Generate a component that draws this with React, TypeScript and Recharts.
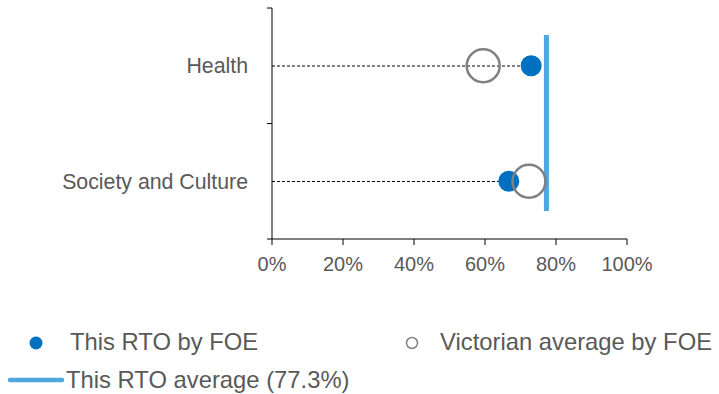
import { ComposedChart, Bar, Line, XAxis, YAxis, ReferenceLine } from 'recharts';

const categories = ['Health', 'Society and Culture'];
const rtoValues = [0.73, 0.667];
const vicValues = [0.595, 0.724];
const rtoAverage = 0.773;
const xTicks = [0, 0.2, 0.4, 0.6, 0.8, 1];

const FONT = '"Liberation Sans", Arial, sans-serif';
const TEXT = '#595959';
const DOT_BLUE = '#0070C0';
const AVG_BLUE = '#4EA7DE';
const CIRCLE_GREY = '#808080';

const data = categories.map((name, i) => ({ name, rto: rtoValues[i], vic: vicValues[i] }));

// leader line from the axis to the RTO value, drawn through the bar's geometry
const DashedLeader = (props: any) => {
  const { x, y, width, height } = props;
  const cy = y + height / 2;
  return <line x1={x} x2={x + width} y1={cy} y2={cy} stroke="#000" strokeWidth={1} strokeDasharray="3 2" />;
};

// category label plus tick marks on the band edges
const CategoryTick = (props: any) => {
  const { x, y, payload } = props;
  const half = payload?.offset ?? 57.75;
  const axisX = x + 24;
  return (
    <g>
      <line x1={axisX - 5} x2={axisX} y1={y - half} y2={y - half} stroke="#000" />
      <line x1={axisX - 5} x2={axisX} y1={y + half} y2={y + half} stroke="#000" />
      <text x={x} y={y} dy="0.355em" textAnchor="end" fill={TEXT} fontSize={21.3} fontFamily={FONT}>
        {payload.value}
      </text>
    </g>
  );
};

const AvgLine = (props: any) => {
  const top = Math.min(props.y1, props.y2);
  const bottom = Math.max(props.y1, props.y2);
  return <line x1={props.x1} x2={props.x2} y1={top + 27} y2={bottom - 28} stroke={AVG_BLUE} strokeWidth={5} />;
};

function LegendBlock() {
  return (
    <svg width={719} height={394} style={{ position: 'absolute', left: 0, top: 0, pointerEvents: 'none' }}>
      <circle cx={36} cy={343} r={6.5} fill={DOT_BLUE} />
      <text x={70} y={350} fontSize={23.8} fill={TEXT} fontFamily={FONT}>This RTO by FOE</text>
      <circle cx={412} cy={343} r={5.5} fill="none" stroke={CIRCLE_GREY} strokeWidth={1.5} />
      <text x={440} y={350} fontSize={23.8} fill={TEXT} fontFamily={FONT}>Victorian average by FOE</text>
      <line x1={10} x2={62} y1={380} y2={380} stroke={AVG_BLUE} strokeWidth={4.5} strokeLinecap="round" />
      <text x={66} y={388} fontSize={23.8} fill={TEXT} fontFamily={FONT}>This RTO average (77.3%)</text>
    </svg>
  );
}

export default function App() {
  return (
    <div style={{ position: 'absolute', left: 0, top: 0, width: 719, height: 394, background: '#fff' }}>
      <ComposedChart
        width={719}
        height={300}
        data={data}
        layout="vertical"
        margin={{ top: 8, right: 92, bottom: 21, left: 0 }}
      >
        <XAxis
          type="number"
          domain={[0, 1]}
          ticks={xTicks}
          tickFormatter={(v: number) => `${Math.round(v * 100)}%`}
          tick={{ fill: TEXT, fontSize: 20, fontFamily: FONT }}
          tickSize={6}
          tickMargin={12}
          axisLine={{ stroke: '#000' }}
          tickLine={{ stroke: '#000' }}
          height={40}
        />
        <YAxis
          type="category"
          dataKey="name"
          width={272}
          tickSize={5}
          tickMargin={19}
          tickLine={false}
          axisLine={{ stroke: '#000' }}
          tick={<CategoryTick />}
        />
        <Bar dataKey="rto" barSize={2} shape={<DashedLeader />} isAnimationActive={false} />
        <Line
          dataKey="rto"
          stroke="none"
          dot={{ r: 10.5, fill: DOT_BLUE, stroke: 'none' }}
          activeDot={false}
          isAnimationActive={false}
        />
        <Line
          dataKey="vic"
          stroke="none"
          dot={{ r: 16.5, fill: 'none', stroke: CIRCLE_GREY, strokeWidth: 2.5 }}
          activeDot={false}
          isAnimationActive={false}
        />
        <ReferenceLine x={rtoAverage} shape={<AvgLine />} />
      </ComposedChart>
      <LegendBlock />
    </div>
  );
}
